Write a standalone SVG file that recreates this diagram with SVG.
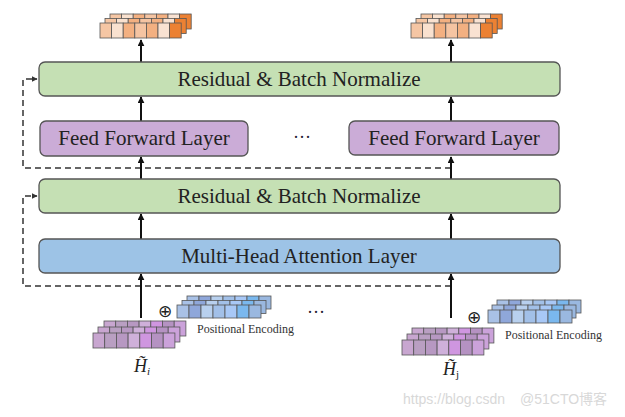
<svg xmlns="http://www.w3.org/2000/svg" width="625" height="417" viewBox="0 0 625 417">
<style>
.box{stroke:#555;stroke-width:1.3}
.green{fill:#c5e0b4}
.purple{fill:#cbacd7}
.blue{fill:#9dc3e6}
.lbl{font-family:"Liberation Serif",serif;font-size:21px;fill:#222;text-anchor:middle}
.pe{font-family:"Liberation Serif",serif;font-size:12px;fill:#333}
.flow{stroke:#111;stroke-width:2;fill:none}
.dash{stroke:#333;stroke-width:1.5;fill:none;stroke-dasharray:6 4}
.cell{stroke:#555;stroke-width:0.8}
.wm{font-family:"Liberation Sans","Noto Sans CJK SC",sans-serif;font-size:14px;fill:#d8d8d8}
.oplus{font-family:"DejaVu Sans",sans-serif;font-size:17px;fill:#222;text-anchor:middle}
</style>
<defs>
<marker id="ah" viewBox="0 0 10 10" refX="9" refY="5" markerWidth="3.5" markerHeight="3.5" orient="auto" markerUnits="strokeWidth">
<path d="M0,0 L10,5 L0,10 z" fill="#111"/>
</marker>
<marker id="ahd" viewBox="0 0 10 10" refX="9" refY="5" markerWidth="4" markerHeight="4" orient="auto" markerUnits="strokeWidth">
<path d="M0,0 L10,5 L0,10 z" fill="#333"/>
</marker>
<g id="orow">
<rect class="cell" x="0" y="0" width="11.6" height="15" fill="#f5c6a4"/>
<rect class="cell" x="11.6" y="0" width="11.6" height="15" fill="#f9e1cf"/>
<rect class="cell" x="23.2" y="0" width="11.6" height="15" fill="#f3b081"/>
<rect class="cell" x="34.8" y="0" width="11.6" height="15" fill="#f5c4a2"/>
<rect class="cell" x="46.4" y="0" width="11.6" height="15" fill="#f3b081"/>
<rect class="cell" x="58" y="0" width="11.6" height="15" fill="#f9e2d2"/>
<rect class="cell" x="69.6" y="0" width="11.6" height="15" fill="#ec8133"/>
</g>
<g id="prow">
<rect class="cell" x="0" y="0" width="11.7" height="15" fill="#c8a6d0"/>
<rect class="cell" x="11.7" y="0" width="11.7" height="15" fill="#b99fc2"/>
<rect class="cell" x="23.4" y="0" width="11.7" height="15" fill="#b798c2"/>
<rect class="cell" x="35.1" y="0" width="11.7" height="15" fill="#cfb0da"/>
<rect class="cell" x="46.8" y="0" width="11.7" height="15" fill="#cf96e0"/>
<rect class="cell" x="58.5" y="0" width="11.7" height="15" fill="#b592c2"/>
<rect class="cell" x="70.2" y="0" width="11.7" height="15" fill="#cba2da"/>
</g>
<g id="brow">
<rect class="cell" x="0" y="0" width="12" height="13" fill="#a9c1e6"/>
<rect class="cell" x="12" y="0" width="12" height="13" fill="#8fa7da"/>
<rect class="cell" x="24" y="0" width="12" height="13" fill="#b8d0ee"/>
<rect class="cell" x="36" y="0" width="12" height="13" fill="#a2c0e8"/>
<rect class="cell" x="48" y="0" width="12" height="13" fill="#a8c8f6"/>
<rect class="cell" x="60" y="0" width="12" height="13" fill="#7ab8ee"/>
<rect class="cell" x="72" y="0" width="12" height="13" fill="#9ab8e0"/>
</g>
</defs>

<g id="connectors">
<path class="dash" d="M451,168 H23 V79 H37" marker-end="url(#ahd)"/>
<path class="dash" d="M451,286 H23 V196 H37" marker-end="url(#ahd)"/>
<path class="flow" d="M141,318 V274" marker-end="url(#ah)"/>
<path class="flow" d="M141,239 V214" marker-end="url(#ah)"/>
<path class="flow" d="M141,179 V157" marker-end="url(#ah)"/>
<path class="flow" d="M141,121 V97" marker-end="url(#ah)"/>
<path class="flow" d="M141,62 V40" marker-end="url(#ah)"/>
<path class="flow" d="M451,318 V274" marker-end="url(#ah)"/>
<path class="flow" d="M451,239 V214" marker-end="url(#ah)"/>
<path class="flow" d="M451,179 V157" marker-end="url(#ah)"/>
<path class="flow" d="M451,121 V97" marker-end="url(#ah)"/>
<path class="flow" d="M451,62 V40" marker-end="url(#ah)"/>
</g>

<g id="residual-top">
<rect class="box green" x="39" y="62" width="521" height="34" rx="6"/>
<text class="lbl" x="299" y="86">Residual &amp; Batch Normalize</text>
</g>
<g id="ff-left">
<rect class="box purple" x="40" y="121" width="208" height="35" rx="6"/>
<text class="lbl" x="144" y="145">Feed Forward Layer</text>
</g>
<g id="ff-right">
<rect class="box purple" x="349" y="121" width="210" height="34" rx="6"/>
<text class="lbl" x="454" y="145">Feed Forward Layer</text>
</g>
<g id="dots-mid">
<text x="302" y="143" font-family="Liberation Serif,serif" font-size="18" fill="#223" text-anchor="middle">···</text>
</g>
<g id="residual-mid">
<rect class="box green" x="39" y="179" width="521" height="34" rx="6"/>
<text class="lbl" x="299" y="203">Residual &amp; Batch Normalize</text>
</g>
<g id="mha">
<rect class="box blue" x="39" y="239" width="521" height="34" rx="6"/>
<text class="lbl" x="299" y="263">Multi-Head Attention Layer</text>
</g>

<g id="out-left">
<use href="#orow" x="110" y="14"/>
<use href="#orow" x="105" y="18.5"/>
<use href="#orow" x="100" y="23"/>
</g>
<g id="out-right">
<use href="#orow" x="421" y="14"/>
<use href="#orow" x="416" y="18.5"/>
<use href="#orow" x="411" y="23"/>
</g>

<g id="input-i">
<use href="#prow" x="104" y="321"/>
<use href="#prow" x="98" y="327"/>
<use href="#prow" x="93" y="333"/>
<text x="134" y="372" font-family="Liberation Serif,serif" font-size="18" font-style="italic" fill="#222">H̃<tspan font-size="11" dy="3">i</tspan></text>
</g>
<g id="pe-i">
<use href="#brow" x="187" y="296"/>
<use href="#brow" x="182" y="300.5"/>
<use href="#brow" x="177" y="305"/>
<text class="oplus" x="165" y="317">⊕</text>
<text class="pe" x="197" y="333">Positional Encoding</text>
</g>
<g id="dots-bottom">
<text x="316" y="318" font-family="Liberation Serif,serif" font-size="18" fill="#223" text-anchor="middle">···</text>
</g>
<g id="input-j">
<use href="#prow" x="412" y="328"/>
<use href="#prow" x="407" y="334"/>
<use href="#prow" x="402" y="340"/>
<text x="443" y="375" font-family="Liberation Serif,serif" font-size="18" font-style="italic" fill="#222">H̃<tspan font-size="11" dy="3" font-style="normal">j</tspan></text>
</g>
<g id="pe-j">
<use href="#brow" x="497" y="300"/>
<use href="#brow" x="492" y="305"/>
<use href="#brow" x="488" y="310"/>
<text class="oplus" x="474" y="323">⊕</text>
<text class="pe" x="505" y="339">Positional Encoding</text>
</g>

<g id="watermark">
<text class="wm" x="403" y="404">https://blog.csdn</text>
<text class="wm" x="520" y="404" fill="#cfcfcf">@51CTO博客</text>
</g>
</svg>
